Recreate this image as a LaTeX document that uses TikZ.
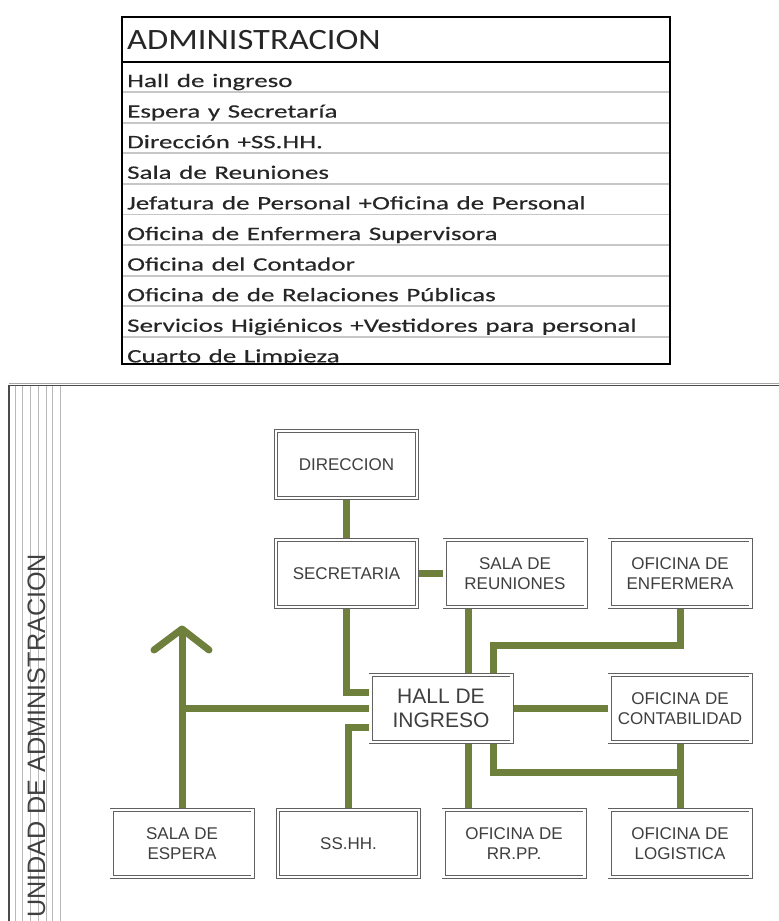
\documentclass[tikz,border=0pt]{standalone}
\usepackage{fontspec}
\setmainfont{Liberation Sans}
\newfontfamily\tabfont[FakeStretch=1.42,WordSpace=1.25,FakeBold=0.3]{Carlito}
\newfontfamily\tabheadfont[FakeStretch=1.17]{Carlito}
\usetikzlibrary{calc,backgrounds}
\definecolor{conn}{HTML}{6F7F3C}
\definecolor{boxtext}{HTML}{3F3F3F}
\definecolor{framegray}{HTML}{4A4A4A}
\tikzset{
  roombox/.style={draw=black!62, double=white, double distance=2.2pt, line width=0.9pt,
    fill=white, minimum width=141pt, minimum height=67pt, inner sep=0pt,
    align=center, text=boxtext, font=\fontsize{17}{20}\selectfont},
  hallbox/.style={roombox, font=\fontsize{21}{24.5}\selectfont},
  link/.style={draw=conn, line width=7pt, line cap=butt, line join=miter},
  tabrow/.style={anchor=base west, inner sep=0pt, text=black!85, font=\tabfont\fontsize{19}{22}\selectfont},
  tabhead/.style={anchor=base west, inner sep=0pt, text=black!85, font=\tabheadfont\fontsize{29.5}{32}\selectfont},
  stripe/.style={draw=black!28, line width=0.9pt}
}
\begin{document}
\begin{tikzpicture}[x=1pt,y=-1pt]
\useasboundingbox (0,0) rectangle (779,921);
% ---------------- table ----------------
\begin{scope}
\clip (122,17) rectangle (670,364);
\node[tabhead] (th) at (127,49) {ADMINISTRACION};
\node[tabrow] (r0) at (127,87.0) {Hall de ingreso};
\node[tabrow] (r1) at (127,117.6) {Espera y Secretaría};
\node[tabrow] (r2) at (127,148.2) {Dirección +SS.HH.};
\node[tabrow] (r3) at (127,178.8) {Sala de Reuniones};
\node[tabrow] (r4) at (127,209.4) {Jefatura de Personal +Oficina de Personal};
\node[tabrow] (r5) at (127,240.0) {Oficina de Enfermera Supervisora};
\node[tabrow] (r6) at (127,270.6) {Oficina del Contador};
\node[tabrow] (r7) at (127,301.2) {Oficina de de Relaciones Públicas};
\node[tabrow] (r8) at (127,331.8) {Servicios Higiénicos +Vestidores para personal};
\node[tabrow] (r9) at (127,362.4) {Cuarto de Limpieza};
\end{scope}
\foreach \k in {0,...,8}{
  \draw[black!22, line width=1.8pt] (123,92+30.6*\k) -- (669,92+30.6*\k);
}
\draw[black, line width=2pt] (122,62) -- (670,62);
\draw[black, line width=2pt] (122,17) rectangle (670,364);
% ---------------- frame ----------------
\foreach \xx in {15,22.7,30.7,38.7,46,52.7,60}{
  \draw[stripe] (\xx,385.4) -- (\xx,921);
}
\draw[black!35, line width=0.8pt] (9,383.8) -- (779,383.8);
\draw[framegray, line width=1.4pt] (8.7,385.4) -- (779,385.4);
\draw[framegray, line width=2pt] (8.7,385.4) -- (8.7,921);
\node[rotate=90, anchor=base west, inner sep=0pt, text=boxtext,
      font=\fontsize{25.2}{28}\selectfont] (unit) at (45,918) {UNIDAD DE ADMINISTRACION};
% ---------------- boxes ----------------
\node[roombox] (dir)  at (346.5,464.5) {DIRECCION};
\node[roombox] (sec)  at (346.5,573.6) {SECRETARIA};
\node[roombox] (reu)  at (515,573.6)   {SALA DE\\REUNIONES};
\node[roombox] (enf)  at (680,573.6)   {OFICINA DE\\ENFERMERA};
\node[hallbox] (hall) at (441,708.3)   {HALL DE\\INGRESO};
\node[roombox] (cont) at (680,708.3)   {OFICINA DE\\CONTABILIDAD};
\node[roombox] (esp)  at (182,843.5)   {SALA DE\\ESPERA};
\node[roombox] (sshh) at (348.5,843.5) {SS.HH.};
\node[roombox] (rrpp) at (514,843.5)   {OFICINA DE\\RR.PP.};
\node[roombox] (log)  at (680,843.5)   {OFICINA DE\\LOGISTICA};
\coordinate (tip) at (182,629);
\coordinate (wl) at (154,650);
\coordinate (wr) at (209,650);
\coordinate (ebend) at (680,645.7);
\coordinate (lbend) at (680,772);
% ---------------- connectors ----------------
\begin{scope}[on background layer]
\draw[link] (dir.south) -- (sec.north);
\draw[link] (sec.east) -- (reu.west);
\draw[link] (sec.south) |- ([yshift=16pt]hall.west);
\draw[link] (hall.west) -- (esp.north |- hall.west);
\draw[link] (esp.north) -- (tip);
\draw[link, line cap=round, line join=round] (wl) -- (tip) -- (wr);
\draw[link] ([yshift=-18.7pt]hall.west) -| (sshh.north);
\draw[link] ([xshift=27pt]hall.north) -- ([xshift=27pt]hall.north |- reu.south);
\draw[link] (enf.south) -- (ebend) -| ([xshift=52pt]hall.north);
\draw[link] (hall.east) -- (cont.west);
\draw[link] ([xshift=27pt]hall.south) -- ([xshift=27pt]hall.south |- rrpp.north);
\draw[link] ([xshift=52pt]hall.south) |- (lbend);
\draw[link] (cont.south) -- (log.north);
\end{scope}
\end{tikzpicture}
\end{document}
